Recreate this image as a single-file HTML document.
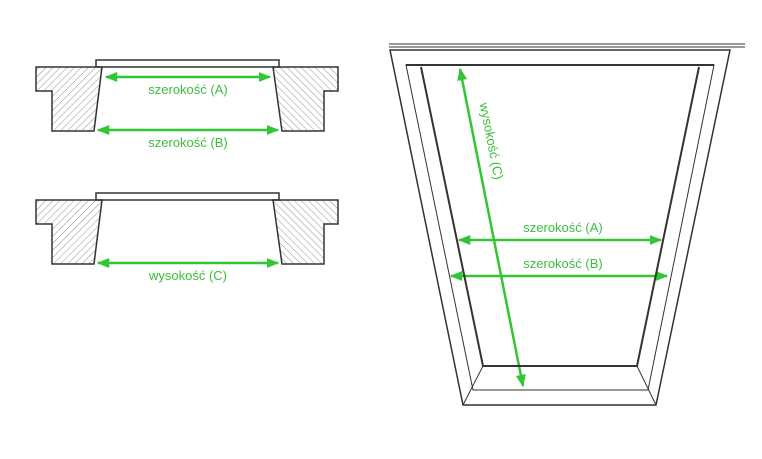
<!DOCTYPE html>
<html><head><meta charset="utf-8"><style>
html,body{margin:0;padding:0;background:#fff;}
svg{display:block;}
text{font-family:"Liberation Sans","DejaVu Sans",sans-serif;font-size:13px;fill:#3cbd3c;}
</style></head><body>
<svg width="762" height="459" viewBox="0 0 762 459" xmlns="http://www.w3.org/2000/svg">
<defs>
<pattern id="h" patternUnits="userSpaceOnUse" width="5" height="5" patternTransform="rotate(45)">
<line x1="0" y1="0" x2="0" y2="5" stroke="#777" stroke-width="0.8"/>
</pattern>
<pattern id="h2" patternUnits="userSpaceOnUse" width="5" height="5" patternTransform="rotate(-45)">
<line x1="0" y1="0" x2="0" y2="5" stroke="#777" stroke-width="0.8"/>
</pattern>
<marker id="a" viewBox="0 0 10 8" refX="9" refY="4" markerWidth="5" markerHeight="4" orient="auto-start-reverse" markerUnits="strokeWidth">
<path d="M0,0 L10,4 L0,8 z" fill="#33c633"/>
</marker>
</defs>
<g id="fig">
<rect x="96" y="60" width="183" height="7" fill="#fff" stroke="#333" stroke-width="1.5"/>
<path d="M36,67 L102,67 L94,131 L52,131 L52,91 L36,91 Z" fill="url(#h)" stroke="#333" stroke-width="1.5"/>
<path d="M273,67 L338,67 L338,91 L324,91 L324,131 L282,131 Z" fill="url(#h2)" stroke="#333" stroke-width="1.5"/>
</g>
<use href="#fig" transform="translate(0,133)"/>
<g stroke="#33c633" stroke-width="2.5" marker-start="url(#a)" marker-end="url(#a)">
<line x1="106" y1="77" x2="270" y2="77"/>
<line x1="98" y1="130" x2="278" y2="130"/>
<line x1="98" y1="263" x2="278" y2="263"/>
<line x1="459" y1="240" x2="661" y2="240"/>
<line x1="451" y1="276" x2="667" y2="276"/>
<line x1="460" y1="69" x2="523" y2="386"/>
</g>
<text x="188" y="94" text-anchor="middle">szerokość (A)</text>
<text x="188" y="147" text-anchor="middle">szerokość (B)</text>
<text x="188" y="280" text-anchor="middle">wysokość (C)</text>
<text x="563" y="232" text-anchor="middle">szerokość (A)</text>
<text x="563" y="268" text-anchor="middle">szerokość (B)</text>
<text transform="translate(487,142) rotate(79)" text-anchor="middle">wysokość (C)</text>
<g fill="none" stroke="#333" stroke-width="1.5">
<line x1="389" y1="44" x2="745" y2="44" stroke-width="1"/>
<line x1="389" y1="47" x2="745" y2="47" stroke-width="1"/>
<path d="M390,50 L730,50 L656,405 L463,405 Z"/>
<path d="M406,65 L714,65 L648,390 L473,390 Z" stroke-width="1"/>
<path d="M406,65 L714,65" stroke-width="2"/>
<path d="M421,67 L483,366 L637,366 L699,67" stroke-width="2"/>
<line x1="483" y1="366" x2="463" y2="405" stroke-width="1"/>
<line x1="637" y1="366" x2="656" y2="405" stroke-width="1"/>
</g>
</svg>
</body></html>
